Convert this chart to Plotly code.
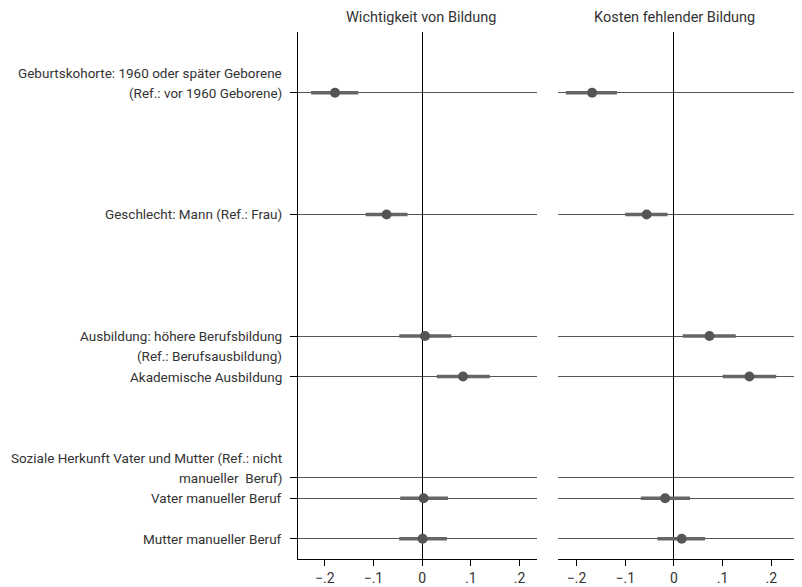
import plotly.graph_objects as go

# ---- data ----
row_labels = [
    "Geburtskohorte: 1960 oder später Geborene<br>(Ref.: vor 1960 Geborene)",
    "Geschlecht: Mann (Ref.: Frau)",
    "Ausbildung: höhere Berufsbildung<br>(Ref.: Berufsausbildung)",
    "Akademische Ausbildung",
    "Soziale Herkunft Vater und Mutter (Ref.: nicht<br>manueller  Beruf)",
    "Vater manueller Beruf",
    "Mutter manueller Beruf",
]
row_pos = [1, 7, 13, 15, 20, 21, 23]
label_line_at_tick = ["last", "last", "first", "last", "last", "last", "last"]

coef_pos = [1, 7, 13, 15, 21, 23]

wb_est = [-0.179, -0.073, 0.006, 0.084, 0.003, 0.001]
wb_lo = [-0.228, -0.116, -0.047, 0.030, -0.045, -0.047]
wb_hi = [-0.131, -0.030, 0.060, 0.139, 0.053, 0.051]

kb_est = [-0.168, -0.056, 0.073, 0.155, -0.018, 0.016]
kb_lo = [-0.222, -0.100, 0.018, 0.100, -0.068, -0.034]
kb_hi = [-0.117, -0.013, 0.127, 0.210, 0.033, 0.064]

panel_titles = ["Wichtigkeit von Bildung", "Kosten fehlender Bildung"]
x_tickvals = [-0.2, -0.1, 0, 0.1, 0.2]
x_ticktext = ["\u2212.2", "\u2212.1", "0", ".1", ".2"]

FONT = "Roboto, Open Sans, sans-serif"
TXT = "#333333"
MARK = "#555555"
CI = "#666666"

# page has an 8px body margin; figure is sized so it fits the window
W, H = 794, 579

fig = go.Figure()

for est, lo, hi, xa in [(wb_est, wb_lo, wb_hi, "x"), (kb_est, kb_lo, kb_hi, "x2")]:
    fig.add_trace(go.Scatter(
        x=est, y=coef_pos, xaxis=xa, yaxis="y" if xa == "x" else "y2",
        mode="markers",
        marker=dict(size=10, color=MARK),
        error_x=dict(type="data", symmetric=False,
                     array=[h - e for h, e in zip(hi, est)],
                     arrayminus=[e - l for e, l in zip(est, lo)],
                     color=CI, thickness=3.5, width=0),
        showlegend=False, hoverinfo="skip",
    ))

xcommon = dict(
    tickvals=x_tickvals, ticktext=x_ticktext, ticks="outside", ticklen=6,
    tickcolor="#000", showline=True, linecolor="#000", linewidth=1,
    showgrid=False, zeroline=True, zerolinecolor="#000", zerolinewidth=1.3,
    tickfont=dict(family=FONT, size=14, color=TXT),
)
ycommon = dict(
    range=[24, -2], tickvals=row_pos, showgrid=True, gridcolor="#555555",
    gridwidth=1, zeroline=False, showticklabels=False,
)

fig.update_layout(
    width=W, height=H,
    margin=dict(l=0, r=0, t=24, b=28),
    paper_bgcolor="white", plot_bgcolor="white",
    xaxis=dict(domain=[290 / W, 529 / W], range=[-0.255, 0.236], anchor="y", **xcommon),
    xaxis2=dict(domain=[550 / W, 1.0], range=[-0.238, 0.263], anchor="y2", **xcommon),
    yaxis=dict(domain=[0, 1], anchor="x", showline=True, linecolor="#000",
               ticks="outside", ticklen=7, tickcolor="#000", **ycommon),
    yaxis2=dict(domain=[0, 1], anchor="x2", showline=False, ticks="", **ycommon),
)

annotations = []
for lab, pos, mode in zip(row_labels, row_pos, label_line_at_tick):
    lines = lab.split("<br>")
    n = len(lines)
    for k, line in enumerate(lines):
        yy = pos - (n - 1 - k) if mode == "last" else pos + k
        annotations.append(dict(
            x=276 / W, xref="paper", y=yy, yref="y", text=line,
            xanchor="right", yanchor="middle", showarrow=False,
            font=dict(family=FONT, size=13.5, color=TXT),
        ))

for title, xc in zip(panel_titles, [413 / W, 666 / W]):
    annotations.append(dict(
        x=xc, xref="paper", y=1 + 14 / 527, yref="paper", text=title,
        xanchor="center", yanchor="middle", showarrow=False,
        font=dict(family=FONT, size=14.5, color=TXT),
    ))

fig.update_layout(annotations=annotations)
fig.write_html("out.html")
